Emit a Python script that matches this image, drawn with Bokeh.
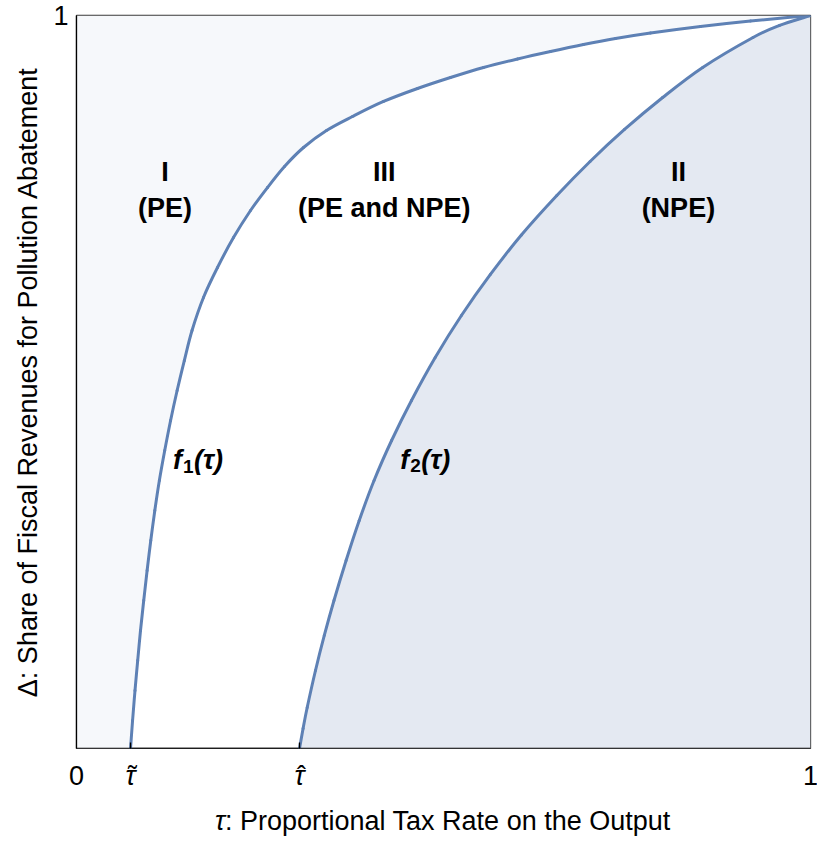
import numpy as np
from bokeh.plotting import figure
from bokeh.layouts import column
from bokeh.models import Range1d, FixedTicker, Span, Label
from bokeh.core.properties import value
from bokeh.embed import file_html
from bokeh.resources import INLINE

# Threshold tax rates where the two boundaries leave the horizontal axis
tau_tilde = 0.0736
tau_hat = 0.3038

# Boundary f1(τ): separates region I (PE) from region III
f1_tau = [0.0736, 0.0764, 0.0797, 0.0834, 0.0872, 0.0916, 0.0962, 0.1012, 0.1067,
          0.1129, 0.1202, 0.1282, 0.1371, 0.1469, 0.1574, 0.1730, 0.1921, 0.2139,
          0.2371, 0.2602, 0.2834, 0.3093, 0.3406, 0.3760, 0.4183, 0.4646, 0.5095,
          0.5545, 0.6008, 0.6458, 0.6907, 0.7343, 0.7820, 0.8501, 0.9183, 1.0]
f1_delta = [0.0, 0.0382, 0.0791, 0.1201, 0.1610, 0.2019, 0.2428, 0.2838, 0.3247,
            0.3656, 0.4065, 0.4475, 0.4884, 0.5293, 0.5703, 0.6153, 0.6562, 0.6971,
            0.7340, 0.7653, 0.7940, 0.8199, 0.8431, 0.8622, 0.8827, 0.9004, 0.9154,
            0.9291, 0.9407, 0.9509, 0.9604, 0.9686, 0.9761, 0.9850, 0.9925, 1.0]

# Boundary f2(τ): separates region III from region II (NPE)
f2_tau = [0.3038, 0.3087, 0.3143, 0.3256, 0.3376, 0.3508, 0.3673, 0.3852, 0.4054,
          0.4293, 0.4564, 0.4887, 0.5244, 0.5639, 0.6061, 0.6544, 0.6997, 0.7466,
          0.7986, 0.8531, 0.9217, 0.9578, 1.0]
f2_delta = [0.0, 0.0273, 0.0559, 0.1064, 0.1542, 0.2019, 0.2565, 0.3111, 0.3656,
            0.4202, 0.4748, 0.5334, 0.5907, 0.6467, 0.7005, 0.7544, 0.8008, 0.8445,
            0.8881, 0.9291, 0.9700, 0.9864, 1.0]

# Region captions
region_numerals = ["I", "III", "II"]
region_regimes = ["(PE)", "(PE and NPE)", "(NPE)"]

# Horizontal tick labels (0 and 1 upright, the thresholds as accented italic τ)
x_plain_ticks = [0.0, 1.0]
x_plain_labels = ["0", "1"]
x_tau_ticks = [tau_tilde, tau_hat]
x_tau_accents = ["\u02dc", "\u02c6"]
y_ticks = [1.0]

FONT = "Liberation Sans"
SIZE = "27px"
LINE = "#5E81B5"
LEFT, RIGHT, FRAME_W = 76, 7, 734


def smooth_curve(fig, xs, ys, **kw):
    """Draw a Catmull-Rom style smooth curve through the given points as Bezier pieces."""
    x = np.asarray(xs, float)
    y = np.asarray(ys, float)
    xp = np.concatenate([[2 * x[0] - x[1]], x, [2 * x[-1] - x[-2]]])
    yp = np.concatenate([[2 * y[0] - y[1]], y, [2 * y[-1] - y[-2]]])
    cx0 = x[:-1] + (xp[2:-1] - xp[:-3]) / 6
    cy0 = y[:-1] + (yp[2:-1] - yp[:-3]) / 6
    cx1 = x[1:] - (xp[3:] - xp[1:-2]) / 6
    cy1 = y[1:] - (yp[3:] - yp[1:-2]) / 6
    fig.bezier(x0=x[:-1], y0=y[:-1], x1=x[1:], y1=y[1:],
               cx0=cx0, cy0=cy0, cx1=cx1, cy1=cy1, line_cap="round", **kw)


# ---- main panel -------------------------------------------------------------
p = figure(width=817, height=749, output_backend="svg", toolbar_location=None,
           x_range=Range1d(0, 1), y_range=Range1d(0, 1), x_axis_location=None,
           min_border_left=LEFT, min_border_right=RIGHT, min_border_top=15,
           min_border_bottom=1)
p.frame_align = False
p.background_fill_color = "white"
p.border_fill_color = "white"
p.outline_line_color = "#3a3a3a"
p.outline_line_width = 1.3
p.grid.visible = False

# Region I: everything to the left of f1
p.patch(x=[0.0] + f1_tau + [0.0], y=[0.0] + f1_delta + [1.0],
        fill_color="#F6F8FB", line_color=None)
# Region II: everything below f2
p.patch(x=f2_tau + [1.0], y=f2_delta + [0.0],
        fill_color="#E4E9F2", line_color=None)

smooth_curve(p, f1_tau, f1_delta, line_color=LINE, line_width=3)
smooth_curve(p, f2_tau, f2_delta, line_color=LINE, line_width=3)

# Bottom axis line with inward ticks at the two thresholds
p.add_layout(Span(location=0, dimension="width", line_color="black", line_width=1.5))
p.scatter(x=x_tau_ticks, y=[0.0, 0.0], marker="dash", angle=np.pi / 2, size=12,
          line_color="black", line_width=1.3)

p.yaxis.ticker = FixedTicker(ticks=y_ticks)
p.yaxis.major_label_overrides = {1.0: "1"}
p.yaxis.axis_line_color = "black"
p.yaxis.axis_line_width = 1.3
p.yaxis.major_tick_in = 0
p.yaxis.major_tick_out = 0
p.yaxis.minor_tick_line_color = None
p.yaxis.major_label_text_font = FONT
p.yaxis.major_label_text_font_size = SIZE
p.yaxis.major_label_text_color = "black"
p.yaxis.major_label_standoff = 8
p.yaxis.axis_label = "Δ: Share of Fiscal Revenues for Pollution Abatement"
p.yaxis.axis_label_text_font = FONT
p.yaxis.axis_label_text_font_size = SIZE
p.yaxis.axis_label_text_font_style = "normal"
p.yaxis.axis_label_text_color = "black"
p.yaxis.axis_label_standoff = 7

# Region captions
region_x = [0.1207, 0.4192, 0.820]
p.text(x=region_x, y=[0.786] * 3, text=region_numerals, text_font=value(FONT),
       text_font_size=SIZE, text_font_style="bold", text_align="center",
       text_baseline="middle", text_color="black")
p.text(x=region_x, y=[0.738] * 3, text=region_regimes, text_font=value(FONT),
       text_font_size=SIZE, text_font_style="bold", text_align="center",
       text_baseline="middle", text_color="black")

# Curve names f1(τ) and f2(τ)
for x0, y0, sub in ((0.1316, 0.393, "1"), (0.4410, 0.394, "2")):
    p.add_layout(Label(x=x0, y=y0, text="f", text_font=FONT, text_font_size=SIZE,
                       text_font_style="bold italic", text_align="left",
                       text_baseline="middle", text_color="black"))
    p.add_layout(Label(x=x0, y=y0, x_offset=10, y_offset=-6, text=sub, text_font=FONT,
                       text_font_size="19px", text_font_style="bold", text_align="left",
                       text_baseline="middle", text_color="black"))
    p.add_layout(Label(x=x0, y=y0, x_offset=21, text="(τ)", text_font=FONT,
                       text_font_size=SIZE, text_font_style="bold italic",
                       text_align="left", text_baseline="middle", text_color="black"))

# ---- strip under the frame: tick labels and the horizontal axis title ---------
q = figure(width=817, height=94, output_backend="svg", toolbar_location=None,
           x_range=Range1d(-LEFT / FRAME_W, (817 - LEFT) / FRAME_W),
           y_range=Range1d(0, 94), x_axis_location=None, y_axis_location=None,
           min_border_left=0, min_border_right=0, min_border_top=0,
           min_border_bottom=0)
q.frame_align = False
q.outline_line_color = None
q.background_fill_color = "white"
q.border_fill_color = "white"
q.grid.visible = False

q.text(x=x_plain_ticks, y=[68, 68], text=x_plain_labels, text_font=value(FONT),
       text_font_size=SIZE, text_align="center", text_baseline="alphabetic",
       text_color="black")
q.text(x=x_tau_ticks, y=[68, 68], text=["τ", "τ"], text_font=value(FONT),
       text_font_size=SIZE, text_font_style="italic", text_align="center",
       text_baseline="alphabetic", text_color="black")
q.text(x=x_tau_ticks, y=[68, 68], x_offset=2, text=x_tau_accents, text_font=value(FONT),
       text_font_size=SIZE, text_align="center", text_baseline="alphabetic",
       text_color="black")

q.text(x=[0.2023], y=[23], text=["τ"], text_font=value(FONT), text_font_size=SIZE,
       text_font_style="italic", text_align="right", text_baseline="alphabetic",
       text_color="black")
q.text(x=[0.2023], y=[23], text=[": Proportional Tax Rate on the Output"],
       text_font=value(FONT), text_font_size=SIZE, text_align="left",
       text_baseline="alphabetic", text_color="black")

layout = column(p, q, spacing=0)
open("out.html", "w").write(file_html(layout, INLINE))
